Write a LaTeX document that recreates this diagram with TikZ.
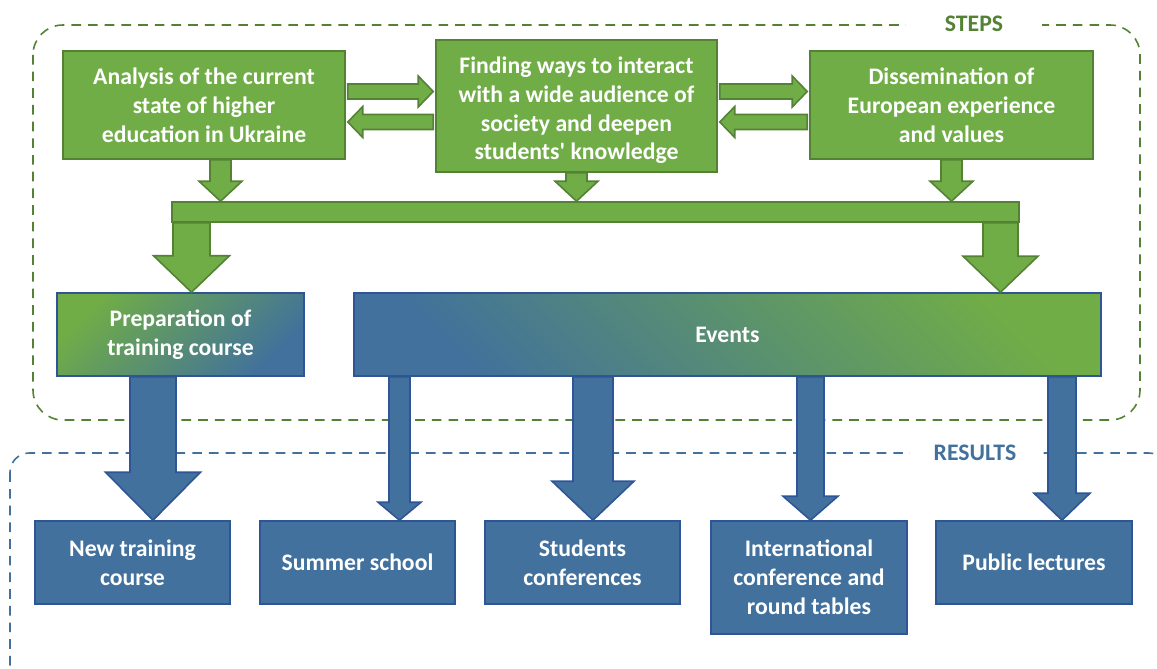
\documentclass[tikz,border=0pt]{standalone}
\usepackage{fontspec}
\setmainfont{Carlito}
\usetikzlibrary{calc}

\definecolor{stepgreen}{HTML}{70AD47}
\definecolor{stepline}{HTML}{548235}
\definecolor{resblue}{HTML}{41719C}
\definecolor{resline}{HTML}{2F5597}

% block arrow pointing down: style, x, from node, to node, shaft, head, head length
\newcommand{\downblk}[7]{%
  \coordinate (ax) at (#2,0);
  \draw[#1] ($(ax |- #3.south)+(-#5,0)$) -- ($(ax |- #4.north)+(-#5,-#7)$)
    -- ($(ax |- #4.north)+(-#6,-#7)$) -- (ax |- #4.north)
    -- ($(ax |- #4.north)+(#6,-#7)$) -- ($(ax |- #4.north)+(#5,-#7)$)
    -- ($(ax |- #3.south)+(#5,0)$) -- cycle;
}
% block arrows sideways: style, y, from node, to node, shaft, head, head length
\newcommand{\rightblk}[7]{%
  \coordinate (ay) at (0,#2);
  \draw[#1] ($(ay -| #3.east)+(2,-#5)$) -- ($(ay -| #4.west)+(-2-#7,-#5)$)
    -- ($(ay -| #4.west)+(-2-#7,-#6)$) -- ($(ay -| #4.west)+(-2,0)$)
    -- ($(ay -| #4.west)+(-2-#7,#6)$) -- ($(ay -| #4.west)+(-2-#7,#5)$)
    -- ($(ay -| #3.east)+(2,#5)$) -- cycle;
}
\newcommand{\leftblk}[7]{%
  \coordinate (ay) at (0,#2);
  \draw[#1] ($(ay -| #3.west)+(-2,-#5)$) -- ($(ay -| #4.east)+(2+#7,-#5)$)
    -- ($(ay -| #4.east)+(2+#7,-#6)$) -- ($(ay -| #4.east)+(2,0)$)
    -- ($(ay -| #4.east)+(2+#7,#6)$) -- ($(ay -| #4.east)+(2+#7,#5)$)
    -- ($(ay -| #3.west)+(-2,#5)$) -- cycle;
}

\begin{document}
\begin{tikzpicture}[
    x=0.02cm, y=-0.02cm,
    font=\bfseries\fontsize{13.5}{16.4}\selectfont
]
\tikzset{
    gbox/.style = {draw=stepline, line width=0.9pt, fill=stepgreen, text=white, align=center, inner sep=0pt},
    bbox/.style = {draw=resline, line width=0.9pt, fill=resblue, text=white, align=center, inner sep=0pt},
    garrow/.style = {draw=stepline, line width=0.9pt, fill=stepgreen},
    barrow/.style = {draw=resline, line width=0.9pt, fill=resblue},
    stepframe/.style = {draw=stepline, line width=0.9pt, dash pattern=on 5.5pt off 4pt, rounded corners=17pt},
    resframe/.style = {draw=resblue, line width=0.9pt, dash pattern=on 5.5pt off 4pt, rounded corners=11pt}
}
\useasboundingbox (0,0) rectangle (1157,669);
\clip (0,0) rectangle (1157,669);

% dashed frames
\draw[stepframe] (33,25) rectangle (1140,420);
\draw[resframe] (10,453) rectangle (1168,690);
\node[fill=white, text=stepline, inner xsep=22pt, inner ysep=2pt] at (974,24) (steps) {STEPS};
\node[fill=white, text=resblue, inner xsep=13.5pt, inner ysep=2pt] at (975,453) (results) {RESULTS};

% steps
\node[gbox, minimum width=5.64cm, minimum height=2.16cm] at (204,105) (ana)
    {Analysis of the current\\state of higher\\education in Ukraine};
\node[gbox, minimum width=5.62cm, minimum height=2.64cm] at (576.5,106) (find)
    {\rule{0pt}{14.5pt}Finding ways to interact\\with a wide audience of\\society and deepen\\students\textquotesingle{} knowledge};
\node[gbox, minimum width=5.66cm, minimum height=2.16cm] at (951.5,105) (diss)
    {Dissemination of\\European experience\\and values};
\node[gbox, minimum width=16.94cm, minimum height=0.4cm] at (595.5,212) (bus) {};
\node[gbox, draw=resline, top color=stepgreen, bottom color=resblue, shading angle=45,
    minimum width=4.94cm, minimum height=1.66cm] at (180.5,334.5) (prep)
    {Preparation of\\training course};
\node[gbox, draw=resline, top color=stepgreen, bottom color=resblue, shading angle=-45,
    minimum width=14.94cm, minimum height=1.66cm] at (727.5,334.5) (events) {Events};

% results
\node[bbox, minimum width=3.9cm, minimum height=1.66cm] at (132.5,562.5) (newc) {New training\\course};
\node[bbox, minimum width=3.9cm, minimum height=1.66cm] at (357.5,562.5) (summer) {Summer school};
\node[bbox, minimum width=3.9cm, minimum height=1.66cm] at (582.5,562.5) (stud) {Students\\conferences};
\node[bbox, minimum width=3.92cm, minimum height=2.26cm] at (809,577.5) (intl)
    {International\\conference and\\round tables};
\node[bbox, minimum width=3.92cm, minimum height=1.66cm] at (1034,562.5) (publ) {Public lectures};

% arrows between steps
\rightblk{garrow}{91.5}{ana}{find}{7.5}{15.5}{15}
\leftblk{garrow}{122}{find}{ana}{7.5}{15.5}{15}
\rightblk{garrow}{91.5}{find}{diss}{7.5}{15.5}{15}
\leftblk{garrow}{122}{diss}{find}{7.5}{15.5}{15}

\downblk{garrow}{220.5}{ana}{bus}{10.5}{21.5}{20}
\downblk{garrow}{576.5}{find}{bus}{10.5}{21.5}{20}
\downblk{garrow}{951.5}{diss}{bus}{10.5}{21.5}{20}
\downblk{garrow}{191.5}{bus}{prep}{18.5}{38}{36.5}
\downblk{garrow}{1000.5}{bus}{events}{17.5}{37.5}{36}

% arrows to results
\downblk{barrow}{153}{prep}{newc}{23}{47.5}{48}
\downblk{barrow}{399.5}{events}{summer}{10.5}{21.5}{18}
\downblk{barrow}{593}{events}{stud}{20}{41}{39}
\downblk{barrow}{810.5}{events}{intl}{13.5}{27.5}{24}
\downblk{barrow}{1062}{events}{publ}{14}{28}{27}
\end{tikzpicture}
\end{document}
